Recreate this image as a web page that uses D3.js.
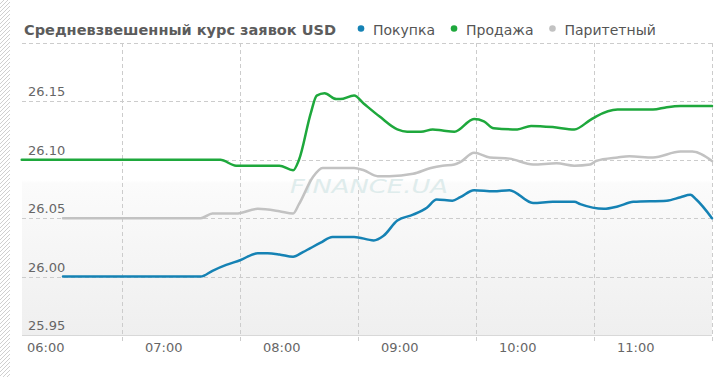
<!DOCTYPE html>
<html>
<head>
<meta charset="utf-8">
<script src="https://cdn.jsdelivr.net/npm/d3@7/dist/d3.min.js"></script>
<style>
  html, body { margin: 0; padding: 0; background: #fff; }
  svg { display: block; }
</style>
</head>
<body>
<svg id="chart" width="720" height="377"></svg>
<script>
const title = "Средневзвешенный курс заявок USD";
const seriesNames = ["Покупка", "Продажа", "Паритетный"];
const seriesColors = ["#1582b4", "#1ea83c", "#c2c2c2"];

const yTicks = [25.95, 26.00, 26.05, 26.10, 26.15, 26.20];
const xTickLabels = ["06:00", "07:00", "08:00", "09:00", "10:00", "11:00", "12:00"];

const buyTimes = ["06:30","07:40","07:46","07:53","08:00","08:09","08:14","08:20","08:27","08:32","08:41","08:47","08:51","08:58","09:08","09:13","09:20","09:28","09:35","09:40","09:48","09:52","09:59","10:09","10:17","10:29","10:39","10:50","10:53","11:05","11:12","11:20","11:37","11:44","11:49","11:52","12:00"];
const buyValues = [26.000,26.000,26.005,26.010,26.014,26.020,26.020,26.019,26.017,26.021,26.029,26.034,26.034,26.034,26.031,26.035,26.048,26.053,26.059,26.066,26.065,26.068,26.074,26.073,26.074,26.063,26.064,26.064,26.062,26.058,26.060,26.064,26.065,26.068,26.070,26.066,26.050];

const sellTimes = ["06:09","07:50","07:58","08:20","08:27","08:30","08:36","08:39","08:43","08:49","08:51","08:58","09:03","09:11","09:20","09:25","09:32","09:38","09:43","09:49","09:59","10:04","10:09","10:21","10:28","10:39","10:50","10:58","11:01","11:12","11:30","11:37","11:44","12:00"];
const sellValues = [26.100,26.100,26.095,26.095,26.091,26.100,26.140,26.155,26.157,26.152,26.152,26.155,26.148,26.137,26.126,26.124,26.124,26.126,26.125,26.124,26.135,26.133,26.127,26.126,26.129,26.128,26.126,26.134,26.137,26.143,26.143,26.145,26.146,26.146];

const parTimes = ["06:30","07:40","07:46","07:58","08:09","08:20","08:27","08:30","08:37","08:42","08:51","08:58","09:03","09:10","09:16","09:28","09:37","09:43","09:49","09:52","09:59","10:07","10:17","10:29","10:41","10:50","10:58","11:01","11:12","11:18","11:30","11:44","11:50","12:00"];
const parValues = [26.050,26.050,26.054,26.054,26.058,26.056,26.054,26.062,26.085,26.093,26.093,26.093,26.091,26.086,26.086,26.088,26.093,26.095,26.096,26.098,26.106,26.102,26.101,26.096,26.097,26.095,26.096,26.099,26.102,26.103,26.102,26.107,26.107,26.099];

const parse = d3.timeParse("%H:%M");
const series = [
  { name: seriesNames[0], color: seriesColors[0], times: buyTimes, values: buyValues },
  { name: seriesNames[1], color: seriesColors[1], times: sellTimes, values: sellValues },
  { name: seriesNames[2], color: seriesColors[2], times: parTimes, values: parValues }
].map(s => ({ ...s, points: s.times.map((t, i) => ({ t: parse(t), v: s.values[i] })) }));

const svg = d3.select("#chart");
const FONT = "'DejaVu Sans', Verdana, sans-serif";
const plotLeft = 22, plotRight = 712, plotTop = 43, plotBottom = 335;

// x: 06:00 sits just left of the plot; plot starts at ~06:09
const x = d3.scaleTime().domain([parse("06:00"), parse("12:00")]).range([4, 712]);
const y = d3.scaleLinear().domain([25.95, 26.20]).range([plotBottom, plotTop]);

const defs = svg.append("defs");
const hatch = defs.append("pattern").attr("id", "hatch").attr("patternUnits", "userSpaceOnUse")
  .attr("width", 4).attr("height", 4);
hatch.append("rect").attr("width", 4).attr("height", 4).attr("fill", "#fff");
hatch.append("path").attr("d", "M-1,1 l2,-2 M0,4 l4,-4 M3,5 l2,-2").attr("stroke", "#cfcfcf").attr("stroke-width", 1);

const grad = defs.append("linearGradient").attr("id", "bg").attr("x1", 0).attr("y1", 0).attr("x2", 0).attr("y2", 1);
grad.append("stop").attr("offset", "0%").attr("stop-color", "#ffffff");
grad.append("stop").attr("offset", "47%").attr("stop-color", "#ffffff");
grad.append("stop").attr("offset", "48%").attr("stop-color", "#fbfbfb");
grad.append("stop").attr("offset", "100%").attr("stop-color", "#efefef");

// left hatched strip
svg.append("rect").attr("x", 0).attr("y", 0).attr("width", 10).attr("height", 377).attr("fill", "url(#hatch)");

// plot background
svg.append("rect").attr("x", plotLeft).attr("y", plotTop).attr("width", plotRight - plotLeft)
  .attr("height", plotBottom - plotTop).attr("fill", "url(#bg)");

// horizontal grid
svg.append("g").selectAll("line").data(yTicks).join("line")
  .attr("x1", plotLeft).attr("x2", plotRight)
  .attr("y1", d => Math.round(y(d)) + 0.5).attr("y2", d => Math.round(y(d)) + 0.5)
  .attr("stroke", d => d === 25.95 ? "#d8d8d8" : "#cccccc")
  .attr("stroke-dasharray", d => d === 25.95 ? null : "4,3");

// vertical grid
const hours = x.ticks(d3.timeHour.every(1));
svg.append("g").selectAll("line").data(hours.filter(h => x(h) >= plotLeft)).join("line")
  .attr("x1", d => Math.round(x(d)) + 0.5).attr("x2", d => Math.round(x(d)) + 0.5)
  .attr("y1", plotTop).attr("y2", plotBottom + 7)
  .attr("stroke", "#cccccc").attr("stroke-dasharray", "4,3");

// y labels
svg.append("g").selectAll("text").data(yTicks.filter(v => v < 26.2)).join("text")
  .attr("x", 28).attr("y", d => y(d) - 5)
  .attr("font-family", FONT).attr("font-size", 13).attr("fill", "#666")
  .text(d => d3.format(".2f")(d));

// x labels
const fmt = d3.timeFormat("%H:%M");
svg.append("g").selectAll("text").data(hours.filter(h => xTickLabels.includes(fmt(h)) && x(h) + 23 < 700)).join("text")
  .attr("x", d => x(d) + 23).attr("y", 352)
  .attr("font-family", FONT).attr("font-size", 13).attr("fill", "#666")
  .text(d => fmt(d));

// watermark
svg.append("text").attr("x", 369).attr("y", 193).attr("text-anchor", "middle")
  .attr("font-family", FONT).attr("font-size", 20).attr("font-style", "italic")
  .attr("fill", "#dfecec").attr("textLength", 158).attr("lengthAdjust", "spacingAndGlyphs")
  .text("FINANCE.UA");

// lines
const line = d3.line().x(d => x(d.t)).y(d => y(d.v)).curve(d3.curveMonotoneX);
svg.append("g").selectAll("path").data([series[2], series[1], series[0]]).join("path")
  .attr("d", d => line(d.points))
  .attr("fill", "none").attr("stroke", d => d.color).attr("stroke-width", 2.5)
  .attr("stroke-linejoin", "round").attr("stroke-linecap", "round");

// title
svg.append("text").attr("x", 24).attr("y", 34.5)
  .attr("font-family", FONT).attr("font-size", 14.5).attr("font-weight", "bold").attr("fill", "#5c5c5c")
  .attr("textLength", 312).attr("lengthAdjust", "spacingAndGlyphs")
  .text(title);

// legend
const lg = svg.append("g");
let cx = 361;
series.forEach(s => {
  lg.append("circle").attr("cx", cx).attr("cy", 28.5).attr("r", 3.3).attr("fill", s.color);
  const t = lg.append("text").attr("x", cx + 12).attr("y", 34.5)
    .attr("font-family", FONT).attr("font-size", 14).attr("fill", "#555").text(s.name);
  cx = cx + 12 + t.node().getComputedTextLength() + 19;
});
</script>
</body>
</html>
